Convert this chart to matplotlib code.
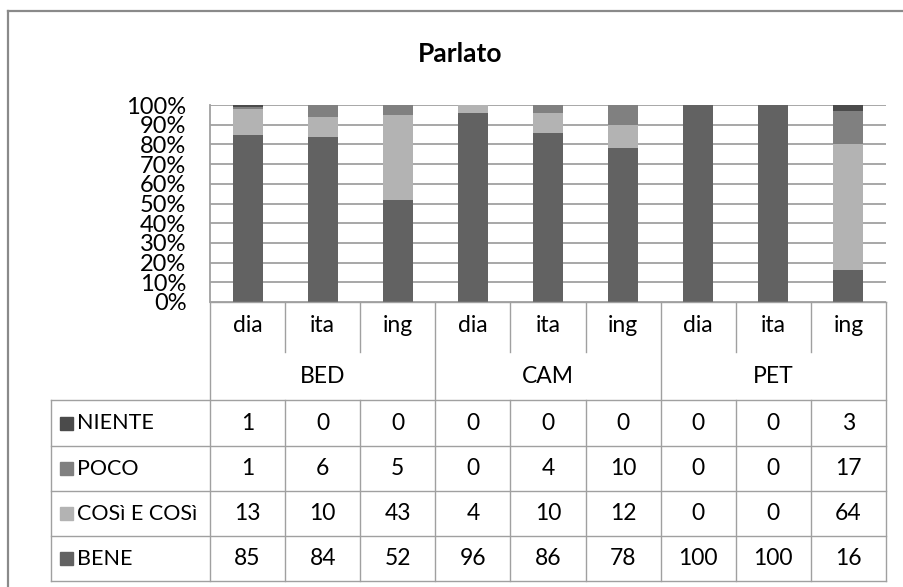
import numpy as np
import matplotlib.pyplot as plt
from matplotlib.patches import Rectangle
from matplotlib.lines import Line2D
from matplotlib.ticker import PercentFormatter

plt.rcParams['font.family'] = ['Lato', 'DejaVu Sans']

groups = ['BED', 'CAM', 'PET']
langs = ['dia', 'ita', 'ing']
series = ['NIENTE', 'POCO', 'COSì E COSì', 'BENE']
niente = [1, 0, 0, 0, 0, 0, 0, 0, 3]
poco = [1, 6, 5, 0, 4, 10, 0, 0, 17]
cosi = [13, 10, 43, 4, 10, 12, 0, 0, 64]
bene = [85, 84, 52, 96, 86, 78, 100, 100, 16]
colors = ['#4b4b4b', '#808080', '#b3b3b3', '#626262']

values = [niente, poco, cosi, bene]

W, H = 904, 587
fig = plt.figure(figsize=(W / 100, H / 100), dpi=100)


def fx(px):
    return px / W


def fy(py):
    return 1 - py / H


# outer chart frame (only left and top edges are inside the picture)
frame_c = '#8a8a8a'
fig.add_artist(Line2D([fx(8), fx(8)], [fy(11), 0], color=frame_c, lw=1.6))
fig.add_artist(Line2D([fx(8), 1], [fy(11), fy(11)], color=frame_c, lw=1.6))

fig.text(fx(460), fy(54), 'Parlato', ha='center', va='center',
         fontsize=19, fontweight='bold')

# bar area
x0, x1, ytop, ybot = 210, 886, 105, 302
ax = fig.add_axes([fx(x0), fy(ybot), (x1 - x0) / W, (ybot - ytop) / H])
n = len(bene)
x = np.arange(n)
totals = np.sum(values, axis=0)
bottom = np.zeros(n)
for vals, col in zip(values[::-1], colors[::-1]):
    frac = np.array(vals) / totals
    ax.bar(x, frac, width=0.4, bottom=bottom, color=col, zorder=3)
    bottom += frac
ax.set_xlim(-0.5, n - 0.5)
ax.set_ylim(0, 1)
ax.set_yticks(np.arange(0, 1.01, 0.1))
ax.yaxis.set_major_formatter(PercentFormatter(1, decimals=0))
ax.set_xticks([])
ax.grid(axis='y', color='#a0a0a0', lw=1.3, zorder=0)
ax.tick_params(axis='y', length=0, pad=17, labelsize=17)
for s in ['top', 'right', 'bottom']:
    ax.spines[s].set_visible(False)
ax.spines['left'].set_color('#a0a0a0')
ax.spines['left'].set_linewidth(1.3)

# data table
colw = (x1 - x0) / n
lab_left = 51
tax = fig.add_axes([fx(lab_left), fy(581), (x1 - lab_left) / W, (581 - ybot) / H])
tax.set_xlim(-(x0 - lab_left) / colw, n)
tax.set_ylim(581, ybot)
tax.axis('off')

lc = '#a0a0a0'
lw = 1.0
xl = -(x0 - lab_left) / colw
rows = [400, 446, 491, 536, 581]
tax.plot([0, n], [ybot, ybot], color=lc, lw=lw, clip_on=False)
for r in rows:
    tax.plot([xl, n], [r, r], color=lc, lw=lw, clip_on=False)
tax.plot([xl, xl], [400, 581], color=lc, lw=lw, clip_on=False)
for c in range(n + 1):
    if c % 3 == 0:
        tax.plot([c, c], [ybot, 581], color=lc, lw=lw, clip_on=False)
    else:
        tax.plot([c, c], [ybot, 352], color=lc, lw=lw, clip_on=False)
        tax.plot([c, c], [400, 581], color=lc, lw=lw, clip_on=False)

fs = 16.5
for i in range(n):
    tax.text(i + 0.5, 325, langs[i % 3], ha='center', va='center', fontsize=fs)
for g, name in enumerate(groups):
    tax.text(g * 3 + 1.5, 376, name, ha='center', va='center', fontsize=fs)

for r, (name, vals, col) in enumerate(zip(series, values, colors)):
    yc = (rows[r] + rows[r + 1]) / 2
    sq = 13
    tax.add_patch(Rectangle((xl + (60 - lab_left) / colw, yc - sq / 2),
                            sq / colw, sq, color=col, clip_on=False))
    tax.text(xl + (77 - lab_left) / colw, yc, name, ha='left', va='center',
             fontsize=15.5)
    for i, v in enumerate(vals):
        tax.text(i + 0.5, yc, str(v), ha='center', va='center', fontsize=fs)

fig.savefig('out.png', dpi=100)
